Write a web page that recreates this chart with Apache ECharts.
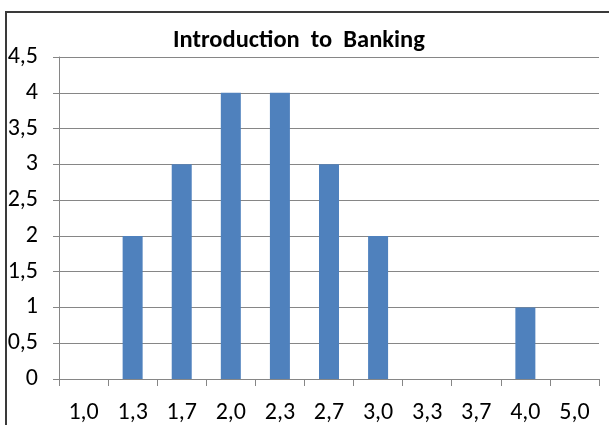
<!DOCTYPE html>
<html><head><meta charset="utf-8">
<script src="https://cdn.jsdelivr.net/npm/echarts@6/dist/echarts.min.js"></script>
<style>html,body{margin:0;padding:0;background:#fff}#c{width:609px;height:425px}</style>
</head><body><div id="c"></div>
<script>
const categories = ['1,0','1,3','1,7','2,0','2,3','2,7','3,0','3,3','3,7','4,0','5,0'];
const counts = [0,2,3,4,4,3,2,0,0,1,0];
const title = 'Introduction  to  Banking';
const FONT = "'Carlito','Liberation Sans Narrow','Liberation Sans',sans-serif";
const chart = echarts.init(document.getElementById('c'));
chart.setOption({
  animation:false,
  title:{text:title,left:168,top:23,textStyle:{fontFamily:FONT,fontSize:24.5,fontWeight:'bold',color:'#000'}},
  graphic:[{type:'rect',shape:{x:6,y:12,width:620,height:440},style:{fill:'none',stroke:'#3a3a3a',lineWidth:2},silent:true}],
  grid:{left:59,right:10,top:57,bottom:45},
  xAxis:{type:'category',data:categories,
    axisLine:{lineStyle:{color:'#868686',width:1}},
    axisTick:{show:true,length:7,inside:false,lineStyle:{color:'#868686'}},
    axisLabel:{fontFamily:FONT,fontSize:24,color:'#000',margin:22}},
  yAxis:{type:'value',min:0,max:4.5,interval:0.5,
    axisLine:{show:true,lineStyle:{color:'#868686'}},
    axisTick:{show:true,length:6,lineStyle:{color:'#868686'}},
    splitLine:{lineStyle:{color:'#868686',width:1}},
    axisLabel:{fontFamily:FONT,fontSize:24,color:'#000',margin:21,
      formatter:v=>String(v).replace('.',',')}},
  series:[{type:'bar',data:counts,barWidth:20,itemStyle:{color:'#4F81BD'}}]
});
</script></body></html>
